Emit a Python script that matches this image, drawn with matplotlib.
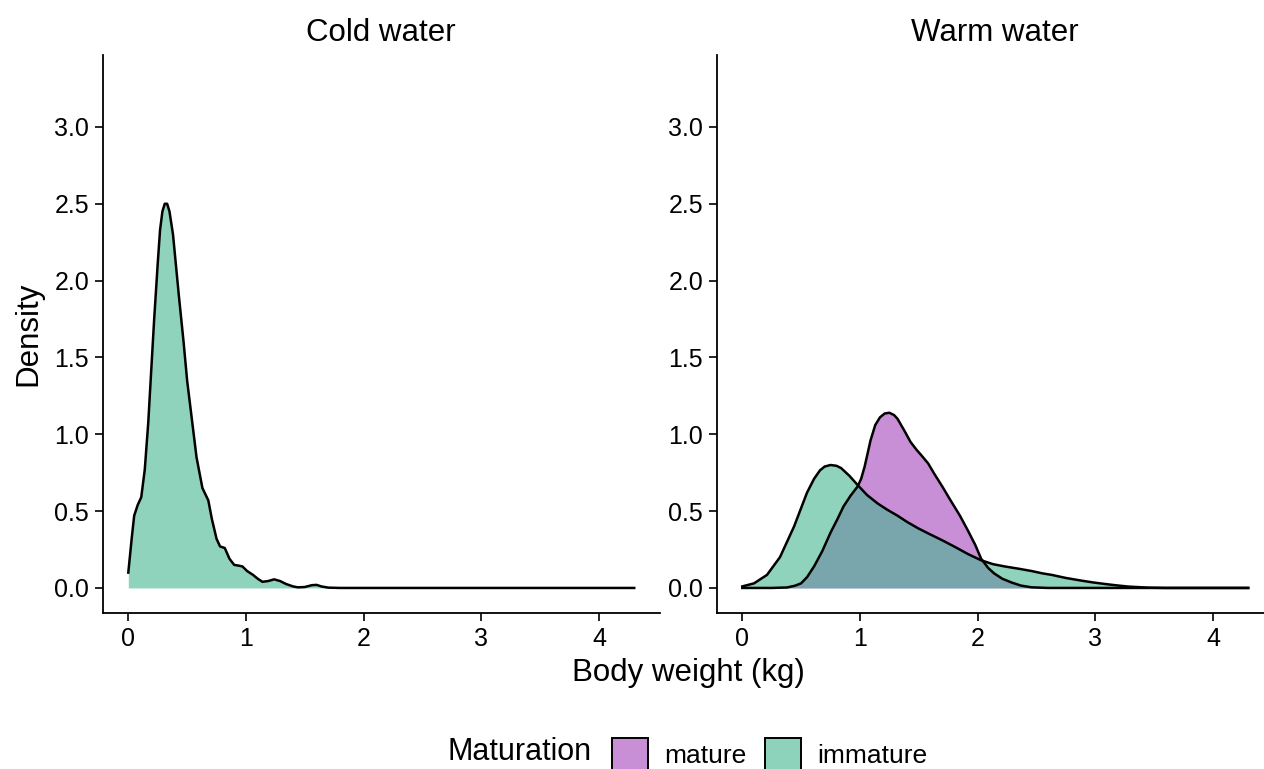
import numpy as np
import matplotlib.pyplot as plt
from matplotlib.patches import Patch

plt.rcParams['font.family'] = ['Liberation Sans', 'DejaVu Sans']

# density curves (body weight in kg, density)
cold_x = [0.0, 0.03, 0.05, 0.08, 0.11, 0.14, 0.17, 0.19, 0.22, 0.25, 0.27, 0.29, 0.31,
          0.33, 0.35, 0.38, 0.43, 0.47, 0.50, 0.54, 0.58, 0.63, 0.68, 0.71, 0.75, 0.78,
          0.82, 0.86, 0.90, 0.94, 0.97, 1.01, 1.06, 1.10, 1.14, 1.19, 1.24, 1.29, 1.34,
          1.40, 1.44, 1.50, 1.56, 1.60, 1.64, 1.70, 1.80, 2.50, 4.30]
cold_immature = [0.10, 0.33, 0.47, 0.54, 0.59, 0.77, 1.08, 1.35, 1.75, 2.11, 2.33, 2.45, 2.50,
                 2.50, 2.45, 2.30, 1.90, 1.60, 1.35, 1.10, 0.85, 0.65, 0.57, 0.45, 0.32, 0.27,
                 0.26, 0.19, 0.15, 0.145, 0.14, 0.11, 0.085, 0.06, 0.04, 0.045, 0.056, 0.045, 0.026,
                 0.01, 0.004, 0.006, 0.018, 0.02, 0.01, 0.002, 0.0, 0.0, 0.0]

warm_imm_x = [0.0, 0.10, 0.21, 0.32, 0.44, 0.55, 0.61, 0.66, 0.70, 0.75, 0.80, 0.84, 0.91,
              0.98, 1.06, 1.15, 1.23, 1.32, 1.40, 1.49, 1.58, 1.70, 1.80, 1.92, 2.03, 2.13,
              2.23, 2.35, 2.46, 2.55, 2.63, 2.75, 2.88, 2.98, 3.08, 3.18, 3.28, 3.45,
              3.60, 4.30]
warm_immature = [0.01, 0.03, 0.085, 0.20, 0.40, 0.62, 0.71, 0.765, 0.79, 0.80, 0.795, 0.78, 0.73,
                 0.67, 0.605, 0.55, 0.51, 0.47, 0.43, 0.39, 0.355, 0.31, 0.27, 0.22, 0.18, 0.155,
                 0.14, 0.125, 0.11, 0.095, 0.085, 0.065, 0.048, 0.036, 0.026, 0.017, 0.009, 0.002,
                 0.0, 0.0]

warm_mat_x = [0.0, 0.25, 0.38, 0.45, 0.50, 0.55, 0.61, 0.68, 0.75, 0.81, 0.86, 0.92,
              0.98, 1.01, 1.04, 1.09, 1.13, 1.17, 1.21, 1.25, 1.29, 1.32, 1.38, 1.43,
              1.48, 1.52, 1.58, 1.63, 1.70, 1.77, 1.85, 1.92, 1.98, 2.03, 2.09, 2.14,
              2.21, 2.29, 2.37, 2.46, 2.60, 4.30]
warm_mature = [0.0, 0.0, 0.003, 0.015, 0.03, 0.07, 0.14, 0.24, 0.36, 0.45, 0.53, 0.60,
               0.66, 0.71, 0.79, 0.96, 1.06, 1.11, 1.135, 1.14, 1.125, 1.10, 1.02, 0.95,
               0.90, 0.865, 0.81, 0.745, 0.66, 0.57, 0.47, 0.37, 0.28, 0.19, 0.13, 0.095,
               0.06, 0.035, 0.015, 0.004, 0.0, 0.0]

panels = ["Cold water", "Warm water"]
groups = ["mature", "immature"]
fills = {"mature": "#c98fd6", "immature": "#44b692"}
alphas = {"mature": 1.0, "immature": 0.6}

fig = plt.figure(figsize=(12.64, 7.69), dpi=100)
W, H = 1264, 769
ax_w = 556.5 / W
ax_b = (H - 613) / H
ax_h = 558 / H
ax1 = fig.add_axes([103 / W, ax_b, ax_w, ax_h])
ax2 = fig.add_axes([717 / W, ax_b, ax_w, ax_h])


def draw_density(ax, x, y, group):
    ax.fill_between(x, 0, y, color=fills[group], alpha=alphas[group], linewidth=0)
    ax.plot(x, y, color="black", lw=1.8, solid_joinstyle="round")


draw_density(ax1, cold_x, cold_immature, "immature")
draw_density(ax2, warm_mat_x, warm_mature, "mature")
draw_density(ax2, warm_imm_x, warm_immature, "immature")

for ax, title in zip([ax1, ax2], panels):
    ax.set_xlim(-0.215, 4.515)
    ax.set_ylim(-0.163, 3.468)
    ax.set_xticks([0, 1, 2, 3, 4])
    ax.set_yticks(np.arange(0, 3.01, 0.5))
    ax.set_yticklabels([f"{v:.1f}" for v in np.arange(0, 3.01, 0.5)])
    for s in ["top", "right"]:
        ax.spines[s].set_visible(False)
    for s in ["left", "bottom"]:
        ax.spines[s].set_linewidth(1.3)
    ax.tick_params(labelsize=18, length=6, width=1.2, colors="black", pad=4)
    ax.set_title(title, fontsize=22.5, pad=10)

fig.text(28 / W, 1 - 334 / H, "Density", rotation=90, fontsize=22.5,
         ha="center", va="center")
fig.text(688 / W, 1 - 673 / H, "Body weight (kg)", fontsize=22.5,
         ha="center", va="center")

# legend along the bottom, title on the left
fig.text(448 / W, 1 - 752 / H, "Maturation", fontsize=22, ha="left", va="center")
handles = [Patch(facecolor=fills["mature"], edgecolor="black", linewidth=1.4),
           Patch(facecolor="#8dd3bb", edgecolor="black", linewidth=1.4)]
fig.legend(handles, groups, loc="center left", bbox_to_anchor=(612 / W, 1 - 754 / H),
           ncol=2, frameon=False, fontsize=19, handlelength=1.36, handleheight=1.5,
           handletextpad=0.62, columnspacing=0.7, borderpad=0, borderaxespad=0)

fig.savefig("out.png", dpi=100)
